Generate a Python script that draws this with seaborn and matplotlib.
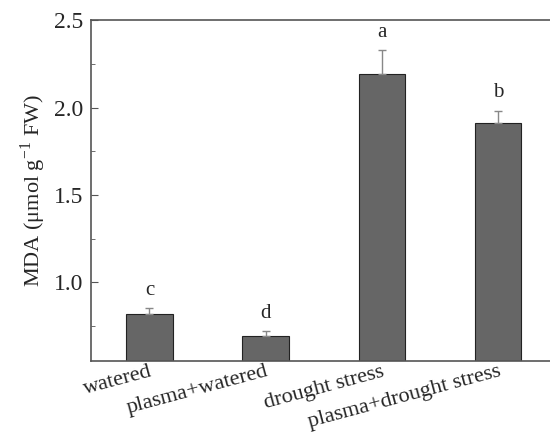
import matplotlib
matplotlib.use('Agg')
import matplotlib.pyplot as plt
from matplotlib.ticker import FixedLocator
import seaborn as sns
import pandas as pd
import numpy as np

treatments = ['watered', 'plasma+watered', 'drought stress', 'plasma+drought stress']
mda_values = [0.817, 0.691, 2.19, 1.91]
mda_err = [0.034, 0.029, 0.137, 0.071]
letters = ['c', 'd', 'a', 'b']

sns.set_style('ticks')
plt.rcParams['font.family'] = ['Liberation Serif', 'DejaVu Serif']
plt.rcParams['mathtext.fontset'] = 'stix'

df = pd.DataFrame({'Treatment': treatments, 'MDA': mda_values})

fig = plt.figure(figsize=(5.5, 4.37), dpi=100)
ax = fig.add_axes([0.166, 0.174, 0.845, 0.78])

sns.barplot(data=df, x='Treatment', y='MDA', color='#666666', width=0.4,
            edgecolor='#222222', linewidth=0.8, errorbar=None, saturation=1, ax=ax)
xs = np.arange(len(treatments))
ax.errorbar(xs, mda_values, yerr=[np.zeros(len(mda_err)), mda_err], fmt='none',
            ecolor='#888888', elinewidth=1, capsize=3, capthick=1)

for x, v, e, l in zip(xs, mda_values, mda_err, letters):
    ax.text(x, v + e + 0.05, l, ha='center', va='bottom', fontsize=15)

ax.set_xlim(-0.5, 3.5)
ax.set_ylim(0.55, 2.5)
ax.yaxis.set_major_locator(FixedLocator([1.0, 1.5, 2.0, 2.5]))
ax.yaxis.set_minor_locator(FixedLocator([0.75, 1.25, 1.75, 2.25]))
ax.tick_params(axis='y', which='both', direction='in', labelsize=17, color='#555555', pad=6)
ax.tick_params(axis='y', which='major', length=5)
ax.tick_params(axis='y', which='minor', length=3)
ax.tick_params(axis='x', length=0, labelsize=16, pad=1)
plt.setp(ax.get_xticklabels(), rotation=15, ha='right', rotation_mode='anchor')

ax.set_xlabel('')
ax.set_ylabel('MDA (μmol g$^{\\mathregular{-1}}$ FW)', fontsize=16, labelpad=4)

for s in ['left', 'bottom', 'top']:
    ax.spines[s].set_color('#555555')
    ax.spines[s].set_linewidth(1.2)
ax.spines['right'].set_visible(False)

fig.savefig('out.png', dpi=100)
